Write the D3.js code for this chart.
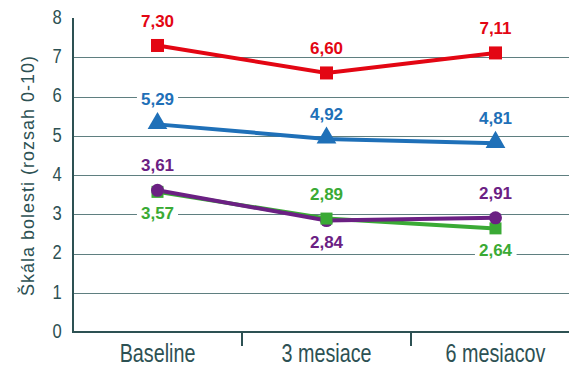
<!DOCTYPE html>
<html>
<head>
<meta charset="utf-8">
<script src="https://cdn.jsdelivr.net/npm/d3@7"></script>
<style>
  html, body { margin: 0; padding: 0; background: #fff; }
  svg { display: block; }
</style>
</head>
<body>
<svg id="chart" width="569" height="367"></svg>
<script>
// Pain score over follow-up, four groups
const categories = ["Baseline", "3 mesiace", "6 mesiacov"];
const yTicks = [0, 1, 2, 3, 4, 5, 6, 7, 8];
const redValues = [7.30, 6.60, 7.11];
const blueValues = [5.29, 4.92, 4.81];
const purpleValues = [3.61, 2.84, 2.91];
const greenValues = [3.57, 2.89, 2.64];
// which side of the marker each value label sits on
const redLabelSide = ["above", "above", "above"];
const blueLabelSide = ["above", "above", "above"];
const purpleLabelSide = ["above", "below", "above"];
const greenLabelSide = ["below", "above", "below"];

const series = [
  { values: greenValues, sides: greenLabelSide, color: "#3aaa35", marker: "square", size: 12 },
  { values: purpleValues, sides: purpleLabelSide, color: "#6b2083", marker: "circle", size: 6.5 },
  { values: blueValues, sides: blueLabelSide, color: "#1f70b8", marker: "triangle", size: 15 },
  { values: redValues, sides: redLabelSide, color: "#e30613", marker: "square", size: 13 }
];

const ink = "#2d5153";
const sans = "'Liberation Sans', Arial, Helvetica, sans-serif";
const narrow = 0.79; // horizontal squeeze for the condensed axis lettering
const svg = d3.select("#chart");
const m = { left: 73, right: 580, top: 18, bottom: 332 };

const x = d3.scaleBand().domain(categories).range([m.left, m.right]).padding(0);
const y = d3.scaleLinear().domain([0, 8]).range([m.bottom, m.top]);
const cx = c => x(c) + x.bandwidth() / 2;

// horizontal gridlines
svg.append("g")
  .selectAll("line")
  .data(yTicks.filter(t => t > 0 && t < 8))
  .join("line")
  .attr("x1", m.left).attr("x2", 569)
  .attr("y1", d => Math.round(y(d)) + 0.5).attr("y2", d => Math.round(y(d)) + 0.5)
  .attr("stroke", "#5f7f80").attr("stroke-width", 1);

// y axis
const yAxis = svg.append("g")
  .attr("transform", `translate(${m.left},0)`)
  .call(d3.axisLeft(y).tickValues(yTicks).tickSize(0).tickPadding(0).tickFormat(d3.format("d")));
yAxis.select(".domain").attr("stroke", ink).attr("stroke-width", 2).attr("d", `M0,${m.top}V${m.bottom}`);
yAxis.selectAll(".tick text")
  .attr("x", null)
  .attr("dy", "0.26em")
  .attr("text-anchor", "middle")
  .attr("transform", `translate(-16,0) scale(${narrow},1)`)
  .attr("fill", ink).attr("font-family", sans).attr("font-size", 21);

// x axis
const xAxis = svg.append("g")
  .attr("transform", `translate(0,${m.bottom})`)
  .call(d3.axisBottom(x).tickSize(0).tickPadding(0));
xAxis.select(".domain").attr("stroke", ink).attr("stroke-width", 2).attr("d", `M${m.left - 1},0H569`);
xAxis.selectAll(".tick text")
  .attr("y", 30).attr("dy", null)
  .attr("transform", `scale(${narrow},1)`)
  .attr("fill", ink).attr("font-family", sans).attr("font-size", 25);
// separators between categories
xAxis.append("g")
  .selectAll("line")
  .data(categories.slice(1))
  .join("line")
  .attr("x1", d => x(d)).attr("x2", d => x(d))
  .attr("y1", 0).attr("y2", 14)
  .attr("stroke", ink).attr("stroke-width", 2);

// y axis title
svg.append("text")
  .attr("transform", `translate(34,176) rotate(-90)`)
  .attr("text-anchor", "middle")
  .attr("fill", ink)
  .attr("font-family", sans)
  .attr("font-size", 18)
  .attr("textLength", 240)
  .attr("lengthAdjust", "spacing")
  .text("Škála bolesti (rozsah 0-10)");

// connecting lines
const line = d3.line().x((d, i) => cx(categories[i])).y(d => y(d));
svg.append("g")
  .selectAll("path")
  .data(series)
  .join("path")
  .attr("d", s => line(s.values))
  .attr("fill", "none")
  .attr("stroke", s => s.color)
  .attr("stroke-width", 4);

// markers: at each time point the higher value sits on top
const points = series.flatMap(s => s.values.map((v, i) => ({ s, v, i })))
  .sort((a, b) => a.v - b.v);
const mk = svg.append("g");
points.forEach(({ s, v, i }) => {
  const px = cx(categories[i]), py = y(v);
  if (s.marker === "square") {
    mk.append("rect")
      .attr("x", px - s.size / 2).attr("y", py - s.size / 2)
      .attr("width", s.size).attr("height", s.size)
      .attr("fill", s.color);
  } else if (s.marker === "circle") {
    mk.append("circle").attr("cx", px).attr("cy", py).attr("r", s.size).attr("fill", s.color);
  } else {
    mk.append("path")
      .attr("d", d3.symbol(d3.symbolTriangle, s.size * s.size * 0.75)())
      .attr("transform", `translate(${px},${py - 1})`)
      .attr("fill", s.color);
  }
});

// value labels
const labels = svg.append("g");
series.forEach(s => {
  s.values.forEach((v, i) => {
    const px = cx(categories[i]), py = y(v);
    const dy = s.sides[i] === "above" ? -25 : 21;
    const txt = d3.format(".2f")(v).replace(".", ",");
    const g = labels.append("g").attr("transform", `translate(${px},${py + dy})`);
    const t = g.append("text")
      .attr("text-anchor", "middle")
      .attr("dy", "0.36em")
      .attr("fill", s.color)
      .attr("font-family", sans)
      .attr("font-weight", "bold")
      .attr("font-size", 17)
      .text(txt);
    const bb = t.node().getBBox();
    g.insert("rect", "text")
      .attr("x", bb.x - 4).attr("y", bb.y + 2)
      .attr("width", bb.width + 8).attr("height", bb.height - 4)
      .attr("fill", "#fff");
  });
});
</script>
</body>
</html>
